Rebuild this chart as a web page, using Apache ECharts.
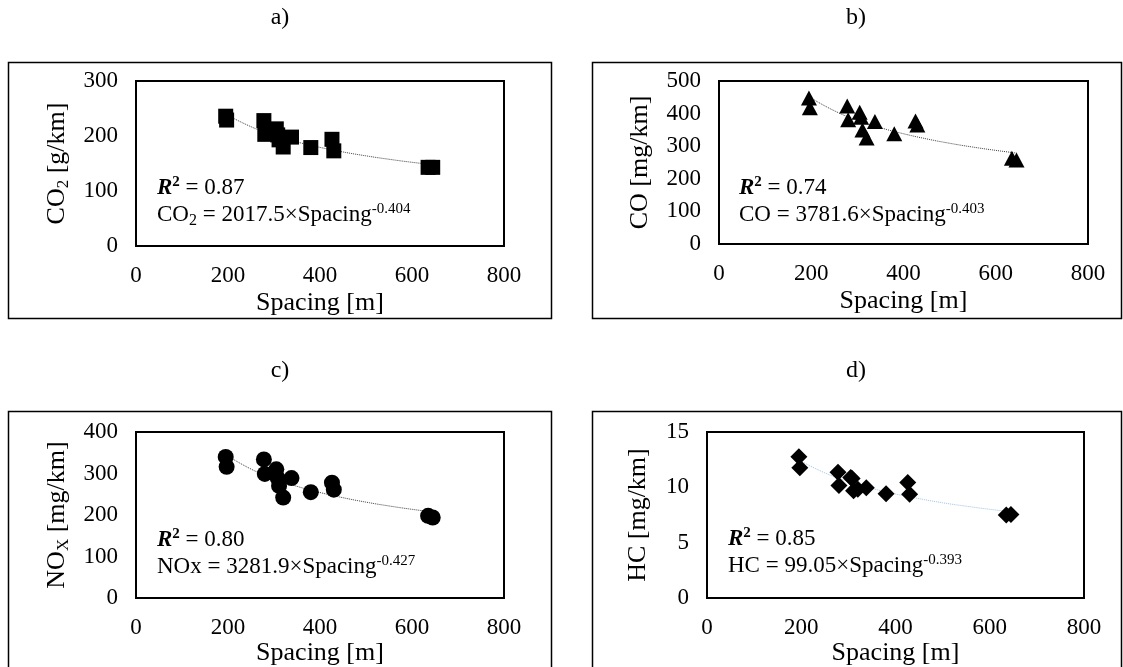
<!DOCTYPE html>
<html>
<head>
<meta charset="utf-8">
<style>
    html, body { margin: 0; padding: 0; background: #fff; }
    #emissionCharts { width: 1123px; height: 667px; }
</style>
</head>
<body>
<div id="emissionCharts"></div>
<script src="https://cdn.jsdelivr.net/npm/echarts/dist/echarts.min.js"></script>
<script>
// spacing of the sections [m], same for all four panels
var spacing = [195, 197, 278, 280, 305, 308, 311, 320, 338, 380, 426, 430, 635, 645];
var co2 = [236, 229, 228, 203, 213, 202, 193, 180, 198, 179, 194, 173, 143, 143];
var co  = [448, 418, 423, 381, 404, 389, 350, 325, 376, 338, 377, 365, 263, 258];
var nox = [340, 316, 334, 299, 310, 289, 270, 242, 289, 255, 278, 261, 198, 194];
var hc  = [12.77, 11.78, 11.36, 10.17, 10.9, 10.8, 9.7, 9.82, 9.97, 9.42, 10.45, 9.38, 7.5, 7.55];

// points
var trendX   = [195, 250, 300, 350, 400, 450, 500, 550, 600, 645];
var co2Trend = [239.7, 216.9, 201.4, 189.2, 179.3, 171.0, 163.9, 157.7, 152.2, 147.9];
var coTrend  = [451.6, 408.7, 379.7, 356.8, 338.2, 322.5, 309.0, 297.4, 287.2, 279.0];
var noxTrend = [345.3, 310.7, 287.4, 269.1, 254.2, 241.7, 231.0, 221.8, 213.7, 207.3];
var hcTrend  = [12.47, 11.31, 10.53, 9.91, 9.40, 8.98, 8.61, 8.30, 8.02, 7.80];

// axis ranges
var xMax = 800, xStep = 200;
var yMax  = [300, 500, 400, 15];
var yStep = [100, 100, 100, 5];

var serif = '"Liberation Serif", "Times New Roman", serif';

function pairs(xs, ys) {
    var out = [];
    for (var i = 0; i < xs.length; i++) out.push([xs[i], ys[i]]);
    return out;
}

// layout of each panel (pixels)
var panels = [
    {grid: {left: 136, top: 81, width: 368, height: 165}, yName: '{t|CO}{s|2}{t| [g/km]}', yGap: 64, xGap: 44,
     symbol: 'rect', size: 15, pts: co2, trend: co2Trend, trendColor: '#404040'},
    {grid: {left: 719, top: 81, width: 369, height: 163}, yName: '{t|CO [mg/km]}', yGap: 64, xGap: 44,
     symbol: 'triangle', size: [16, 15], pts: co, trend: coTrend, trendColor: '#404040'},
    {grid: {left: 136, top: 432, width: 368, height: 166}, yName: '{t|NO}{s|X}{t| [mg/km]}', yGap: 64, xGap: 36,
     symbol: 'circle', size: 16, pts: nox, trend: noxTrend, trendColor: '#404040'},
    {grid: {left: 707, top: 432, width: 377, height: 168}, yName: '{t|HC [mg/km]}', yGap: 54, xGap: 36,
     symbol: 'diamond', size: 17, pts: hc, trend: hcTrend, trendColor: '#9DC3E6'}
];

var option = {
    animation: false,
    backgroundColor: '#fff',
    grid: [], xAxis: [], yAxis: [], series: [], graphic: []
};

panels.forEach(function (p, i) {
    option.grid.push({
        left: p.grid.left, top: p.grid.top, width: p.grid.width, height: p.grid.height,
        show: true, borderColor: '#000', borderWidth: 2, backgroundColor: 'transparent'
    });
    option.xAxis.push({
        gridIndex: i, type: 'value', min: 0, max: xMax, interval: xStep,
        name: 'Spacing [m]', nameLocation: 'middle', nameGap: p.xGap,
        nameTextStyle: {fontFamily: serif, fontSize: 26, color: '#000'},
        axisLine: {show: false}, axisTick: {show: false}, splitLine: {show: false},
        axisLabel: {margin: 18, fontFamily: serif, fontSize: 23, color: '#000'}
    });
    option.yAxis.push({
        gridIndex: i, type: 'value', min: 0, max: yMax[i], interval: yStep[i],
        name: p.yName, nameLocation: 'middle', nameRotate: 90, nameGap: p.yGap,
        nameTextStyle: {
            fontFamily: serif, color: '#000',
            rich: {
                t: {fontFamily: serif, fontSize: 26, color: '#000', lineHeight: 30},
                s: {fontFamily: serif, fontSize: 17, color: '#000', lineHeight: 17, verticalAlign: 'bottom'}
            }
        },
        axisLine: {show: false}, axisTick: {show: false}, splitLine: {show: false},
        axisLabel: {margin: 18, fontFamily: serif, fontSize: 23, color: '#000'}
    });
    option.series.push({
        type: 'line', xAxisIndex: i, yAxisIndex: i, data: pairs(trendX, p.trend),
        smooth: true, showSymbol: false, silent: true, z: 1,
        lineStyle: {color: p.trendColor, width: 1, type: 'dotted'}
    });
    option.series.push({
        type: 'scatter', xAxisIndex: i, yAxisIndex: i, data: pairs(spacing, p.pts),
        symbol: p.symbol, symbolSize: p.size, z: 2,
        itemStyle: {color: '#000', opacity: 1}
    });
});

// outer frames and panel letters
var frames = [[8, 62, 543, 256], [592, 62, 529, 256], [8, 411, 543, 270], [592, 411, 529, 270]];
frames.forEach(function (f) {
    option.graphic.push({
        type: 'rect', shape: {x: f[0] + 0.5, y: f[1] + 0.5, width: f[2], height: f[3]},
        style: {fill: 'none', stroke: '#000', lineWidth: 1.5}, silent: true
    });
});
var letters = [['a)', 280, 18], ['b)', 856, 18], ['c)', 280, 371], ['d)', 856, 371]];
letters.forEach(function (l) {
    option.graphic.push({
        type: 'text', x: l[1], y: l[2],
        style: {text: l[0], font: '24px ' + serif, fill: '#000', align: 'center', verticalAlign: 'middle'}
    });
});

// fit annotations
var richAnn = {
    b: {fontFamily: serif, fontSize: 23, fontWeight: 'bold', fontStyle: 'italic', color: '#000', lineHeight: 27},
    bs: {fontFamily: serif, fontSize: 15, fontWeight: 'bold', color: '#000', lineHeight: 15, verticalAlign: 'top'},
    t: {fontFamily: serif, fontSize: 23, color: '#000', lineHeight: 27},
    s: {fontFamily: serif, fontSize: 16, color: '#000', lineHeight: 16, verticalAlign: 'bottom'},
    p: {fontFamily: serif, fontSize: 15, color: '#000', lineHeight: 15, verticalAlign: 'top'}
};
var notes = [
    [157, 188, '{b|R}{bs|2}{t| = 0.87}'],
    [157, 215, '{t|CO}{s|2}{t| = 2017.5×Spacing}{p|-0.404}'],
    [739, 188, '{b|R}{bs|2}{t| = 0.74}'],
    [739, 215, '{t|CO = 3781.6×Spacing}{p|-0.403}'],
    [157, 540, '{b|R}{bs|2}{t| = 0.80}'],
    [157, 567, '{t|NOx = 3281.9×Spacing}{p|-0.427}'],
    [728, 539, '{b|R}{bs|2}{t| = 0.85}'],
    [728, 566, '{t|HC = 99.05×Spacing}{p|-0.393}']
];
notes.forEach(function (n) {
    option.graphic.push({
        type: 'text', x: n[0], y: n[1], z: 10,
        style: {text: n[2], rich: richAnn, align: 'left', verticalAlign: 'middle', fill: '#000'}
    });
});

var chart = echarts.init(document.getElementById('emissionCharts'));
chart.setOption(option);
</script>
</body>
</html>
